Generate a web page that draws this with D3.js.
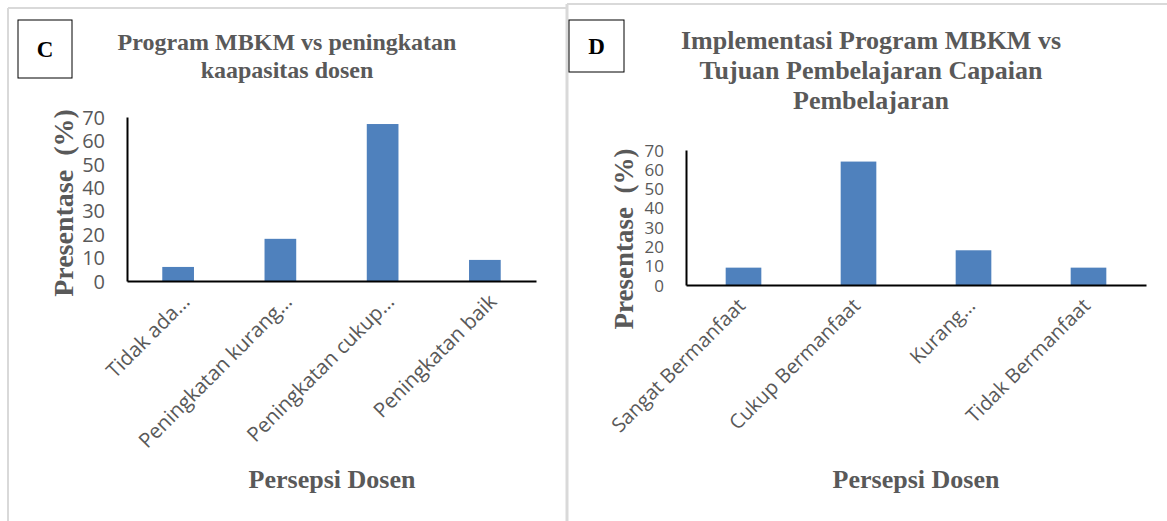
<!DOCTYPE html>
<html>
<head>
<meta charset="utf-8">
<script src="https://cdn.jsdelivr.net/npm/d3@7/dist/d3.min.js"></script>
<style>
  html, body { margin: 0; padding: 0; background: #fff; }
  svg { display: block; }
  .tick text { fill: #595959; font-family: "Open Sans", sans-serif; }
  .ttl { fill: #595959; font-family: "Liberation Serif", "Times New Roman", serif; font-weight: bold; }
</style>
</head>
<body>
<svg id="chart" width="1167" height="521"></svg>
<script>
// data
const catsC = ["Tidak ada…", "Peningkatan kurang…", "Peningkatan cukup…", "Peningkatan baik"];
const valsC = [6, 18, 67, 9];
const catsD = ["Sangat Bermanfaat", "Cukup Bermanfaat", "Kurang…", "Tidak Bermanfaat"];
const valsD = [9, 64, 18, 9];
const yTicks = [0, 10, 20, 30, 40, 50, 60, 70];
const titleC = ["Program MBKM vs peningkatan", "kaapasitas dosen"];
const titleD = ["Implementasi Program MBKM vs", "Tujuan Pembelajaran Capaian", "Pembelajaran"];
const yTitle = "Presentase\u00a0\u00a0(%)";
const xTitle = "Persepsi Dosen";

const svg = d3.select("#chart");
const BAR = "#4f81bd";

// panel frames (light grey, like a cropped Word figure)
svg.append("line").attr("x1", 8).attr("y1", 8).attr("x2", 567).attr("y2", 8)
  .attr("stroke", "#d9d9d9").attr("stroke-width", 2);
svg.append("line").attr("x1", 8).attr("y1", 8).attr("x2", 8).attr("y2", 521)
  .attr("stroke", "#d9d9d9").attr("stroke-width", 2);
svg.append("line").attr("x1", 567).attr("y1", 4).attr("x2", 1167).attr("y2", 4)
  .attr("stroke", "#d9d9d9").attr("stroke-width", 2);
svg.append("line").attr("x1", 567).attr("y1", 4).attr("x2", 567).attr("y2", 521)
  .attr("stroke", "#d9d9d9").attr("stroke-width", 3);

function panel(o) {
  const x = d3.scaleBand().domain(o.cats).range([o.left, o.right]).paddingInner(0.69).paddingOuter(0.345);
  const y = d3.scaleLinear().domain([0, 70]).range([o.bottom, o.top]);

  // letter box
  svg.append("rect").attr("x", o.box[0]).attr("y", o.box[1]).attr("width", o.box[2]).attr("height", o.box[3])
    .attr("fill", "#fff").attr("stroke", "#000").attr("stroke-width", 1);
  svg.append("text").attr("class", "ttl").attr("x", o.box[0] + o.box[2] / 2).attr("y", o.box[1] + o.box[3] / 2 + 8)
    .attr("text-anchor", "middle").style("font-size", "23px").style("fill", "#000").text(o.letter);

  // title
  svg.append("text").attr("class", "ttl").attr("text-anchor", "middle").style("font-size", o.titleSize + "px")
    .selectAll("tspan").data(o.title).join("tspan")
    .attr("x", o.titleX).attr("y", (d, i) => o.titleY + i * o.titleGap).text((d) => d);

  svg.append("g").selectAll("rect").data(o.vals).join("rect")
    .attr("x", (d, i) => x(o.cats[i]))
    .attr("width", x.bandwidth())
    .attr("y", (d) => y(d))
    .attr("height", (d) => y(0) - y(d))
    .attr("fill", BAR);

  const ya = svg.append("g").attr("transform", `translate(${o.left},0)`)
    .call(d3.axisLeft(y).tickValues(yTicks).tickSize(0).tickPadding(o.tickPad));
  ya.select(".domain").attr("stroke", "#000").attr("stroke-width", 2);
  ya.selectAll(".tick text").style("font-size", o.yTickSize + "px").attr("dy", "0.36em");

  const xa = svg.append("g").attr("transform", `translate(0,${o.bottom})`)
    .call(d3.axisBottom(x).tickSize(0));
  xa.select(".domain").attr("stroke", "#000").attr("stroke-width", 2);
  xa.selectAll(".tick text")
    .style("font-size", o.xTickSize + "px")
    .attr("text-anchor", "end")
    .attr("dy", null).attr("y", 0)
    .attr("transform", `translate(${o.xlab[0]},${o.xlab[1]}) rotate(-45)`);

  svg.append("text").attr("class", "ttl").attr("text-anchor", "middle").style("font-size", o.yTitleSize + "px")
    .attr("transform", `translate(${o.yTitle[0]},${o.yTitle[1]}) rotate(-90)`).text(yTitle);
  svg.append("text").attr("class", "ttl").attr("text-anchor", "middle").style("font-size", "26px")
    .attr("x", o.xTitle[0]).attr("y", o.xTitle[1]).text(xTitle);
}

panel({
  letter: "C", box: [18, 20, 54, 58],
  cats: catsC, vals: valsC, left: 127, right: 536, top: 117, bottom: 281,
  title: titleC, titleX: 287, titleY: 50, titleGap: 28, titleSize: 24,
  tickPad: 22, yTickSize: 20, xTickSize: 20.5, xlab: [13, 22],
  yTitle: [73, 203], yTitleSize: 28, xTitle: [332, 488]
});

panel({
  letter: "D", box: [569, 20, 55, 52],
  cats: catsD, vals: valsD, left: 686, right: 1146, top: 150, bottom: 285,
  title: titleD, titleX: 871, titleY: 49, titleGap: 30, titleSize: 26,
  tickPad: 22, yTickSize: 17, xTickSize: 20, xlab: [3, 22],
  yTitle: [633, 239], yTitleSize: 27, xTitle: [916, 488]
});
</script>
</body>
</html>
